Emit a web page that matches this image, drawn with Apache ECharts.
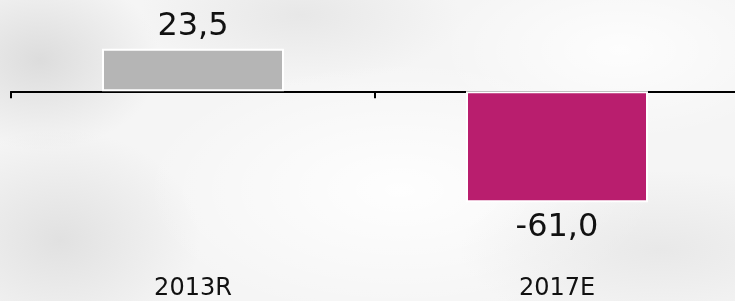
<!DOCTYPE html>
<html>
<head>
<meta charset="utf-8">
<script src="https://cdn.jsdelivr.net/npm/echarts@6/dist/echarts.min.js"></script>
<style>
html,body{margin:0;padding:0;}
#main{
	width:735px;height:301px;
	background-color:#f5f5f5;
	background-image:
		radial-gradient(ellipse 120px 90px at 40px 60px, rgba(200,200,200,0.55), rgba(200,200,200,0) 100%),
		radial-gradient(ellipse 160px 70px at 300px 15px, rgba(215,215,215,0.45), rgba(215,215,215,0) 100%),
		radial-gradient(ellipse 140px 110px at 60px 240px, rgba(205,205,205,0.5), rgba(205,205,205,0) 100%),
		radial-gradient(ellipse 200px 80px at 660px 250px, rgba(220,220,220,0.5), rgba(220,220,220,0) 100%),
		radial-gradient(ellipse 260px 130px at 400px 190px, rgba(255,255,255,0.9), rgba(255,255,255,0) 100%),
		radial-gradient(ellipse 180px 90px at 620px 50px, rgba(255,255,255,0.8), rgba(255,255,255,0) 100%);
}
</style>
</head>
<body>
<div id="main"></div>
<script>
var categories = ['2013R', '2017E'];
var values = [23.5, -61.0];
var barColors = ['#b5b5b5', '#b91e6e'];

var myChart = echarts.init(document.getElementById('main'));

var seriesData = [];
for (var i = 0; i < values.length; i++) {
	var neg = values[i] < 0;
	seriesData.push({
		value: values[i],
		itemStyle: {color: barColors[i]},
		label: {position: neg ? 'bottom' : 'top', distance: neg ? 10 : 6}
	});
}

var option = {
	animation: false,
	grid: {left: 11, width: 728, top: 0.5, bottom: 28, outerBoundsMode: 'none', containLabel: false},
	xAxis: [
		{
			type: 'category',
			data: categories,
			axisLine: {onZero: true, lineStyle: {color: '#000', width: 2}},
			axisTick: {show: true, length: 7, lineStyle: {color: '#000', width: 2}},
			axisLabel: {show: false}
		},
		{
			type: 'category',
			data: categories,
			position: 'bottom',
			axisLine: {show: false, onZero: false},
			axisTick: {show: false},
			axisLabel: {
				margin: 4,
				fontSize: 24,
				color: '#111',
				fontFamily: 'DejaVu Sans'
			}
		}
	],
	yAxis: {
		type: 'value',
		min: -100,
		max: 50,
		show: false,
		splitLine: {show: false}
	},
	series: [
		{
			type: 'bar',
			xAxisIndex: 0,
			barWidth: '50%',
			data: seriesData,
			itemStyle: {borderColor: '#fff', borderWidth: 2},
			label: {
				show: true,
				fontSize: 32,
				color: '#111',
				fontFamily: 'DejaVu Sans',
				formatter: function(p){
					return p.value.toFixed(1).replace('.', ',');
				}
			}
		}
	]
};

myChart.setOption(option);
</script>
</body>
</html>
